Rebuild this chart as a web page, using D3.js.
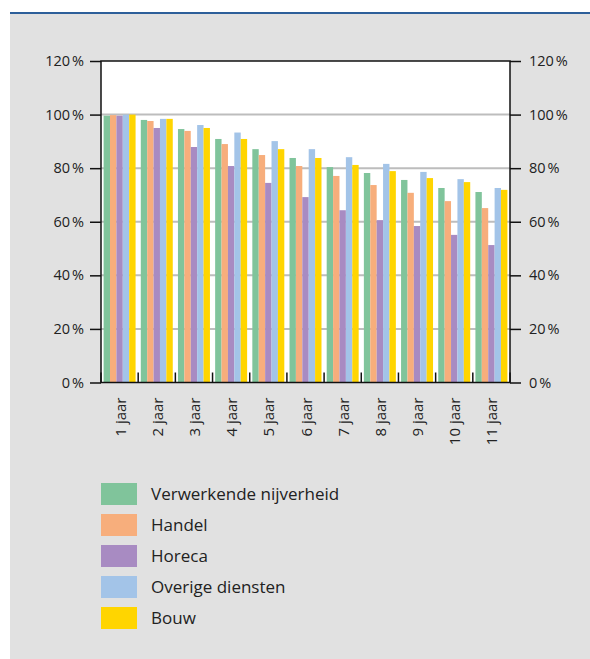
<!DOCTYPE html>
<html>
<head>
<meta charset="utf-8">
<script src="https://cdn.jsdelivr.net/npm/d3@7"></script>
<style>
  body { margin: 0; background: #fff; }
  svg text { font-family: "Open Sans", "Noto Sans", sans-serif; fill: #222; }
</style>
</head>
<body>
<svg class="chart"></svg>
<script>
// categories and series
var years = ["1 jaar", "2 jaar", "3 jaar", "4 jaar", "5 jaar", "6 jaar", "7 jaar", "8 jaar", "9 jaar", "10 jaar", "11 jaar"];
var seriesNames = ["Verwerkende nijverheid", "Handel", "Horeca", "Overige diensten", "Bouw"];
var seriesColors = ["#80c49b", "#f7ae7c", "#a88bc2", "#a3c4e8", "#ffd500"];

var verwerkende = [99.6, 98.0, 94.6, 90.9, 87.1, 83.8, 80.4, 78.2, 75.6, 72.6, 71.1];
var handel = [99.8, 97.6, 93.9, 89.0, 84.9, 80.8, 77.1, 73.7, 70.8, 67.7, 65.1];
var horeca = [99.6, 95.0, 87.9, 80.8, 74.5, 69.2, 64.3, 60.6, 58.4, 55.1, 51.3];
var overige = [100, 98.4, 96.1, 93.3, 90.1, 87.1, 84.1, 81.6, 78.6, 75.9, 72.6];
var bouw = [100, 98.4, 95.0, 90.9, 87.1, 83.8, 81.2, 78.9, 76.3, 74.8, 71.9];

var yTicks = [0, 20, 40, 60, 80, 100, 120];

var allSeries = [verwerkende, handel, horeca, overige, bouw];

var W = 590, H = 659;
var svg = d3.select(".chart").attr("width", W).attr("height", H);

// grey panel with the blue rule on top
svg.append("rect")
    .attr("x", 10).attr("y", 13)
    .attr("width", W - 10).attr("height", H - 13)
    .attr("fill", "#e1e1e1");
svg.append("line")
    .attr("x1", 10).attr("x2", W)
    .attr("y1", 13).attr("y2", 13)
    .attr("stroke", "#2d5f9a")
    .attr("stroke-width", 2);

var plotLeft = 101, plotRight = 510, plotTop = 61, plotBottom = 382.5;

var x = d3.scaleBand().domain(years).range([plotLeft, plotRight]).paddingInner(0.14).paddingOuter(0.07);
var xs = d3.scaleBand().domain(d3.range(seriesNames.length)).range([0, x.bandwidth()]);
var y = d3.scaleLinear().domain([0, 120]).range([plotBottom, plotTop]);

// plot background
svg.append("rect")
    .attr("x", plotLeft).attr("y", plotTop)
    .attr("width", plotRight - plotLeft).attr("height", plotBottom - plotTop)
    .attr("fill", "#fff");

// gridlines
svg.append("g")
  .selectAll("line")
  .data(yTicks.filter(function(d) { return d > 0 && d < 120; }))
  .join("line")
    .attr("x1", plotLeft).attr("x2", plotRight)
    .attr("y1", function(d) { return y(d); })
    .attr("y2", function(d) { return y(d); })
    .attr("stroke", "#bdbdbd")
    .attr("stroke-width", 2);

// bars
svg.append("g")
  .selectAll("g")
  .data(allSeries)
  .join("g")
    .attr("fill", function(d, i) { return seriesColors[i]; })
    .each(function(vals, si) {
      d3.select(this).selectAll("rect")
        .data(vals)
        .join("rect")
          .attr("x", function(v, i) { return x(years[i]) + xs(si); })
          .attr("width", xs.bandwidth())
          .attr("y", function(v) { return y(v); })
          .attr("height", function(v) { return plotBottom - y(v); });
    });

// frame
svg.append("rect")
    .attr("x", plotLeft).attr("y", plotTop)
    .attr("width", plotRight - plotLeft).attr("height", plotBottom - plotTop)
    .attr("fill", "none")
    .attr("stroke", "#111")
    .attr("stroke-width", 1.5);

var fmt = function(d) { return d + "\u202f%"; };

// left axis
var gl = svg.append("g")
    .attr("transform", "translate(" + plotLeft + ",0)")
    .call(d3.axisLeft(y).tickValues(yTicks).tickFormat(fmt).tickSize(11).tickPadding(6));
// right axis
var gr = svg.append("g")
    .attr("transform", "translate(" + plotRight + ",0)")
    .call(d3.axisRight(y).tickValues(yTicks).tickFormat(fmt).tickSize(11).tickPadding(8));

[gl, gr].forEach(function(g) {
  g.select(".domain").remove();
  g.selectAll(".tick line").attr("stroke", "#111").attr("stroke-width", 1.5);
  g.selectAll(".tick text").attr("font-size", 14.5).attr("fill", "#222")
      .style("font-family", "'Open Sans', 'Noto Sans', sans-serif");
});

// category separators inside the plot
var seps = d3.range(years.length + 1).map(function(i) {
  return plotLeft + i * (plotRight - plotLeft) / years.length;
});
svg.append("g")
  .selectAll("line")
  .data(seps)
  .join("line")
    .attr("x1", function(d) { return d; })
    .attr("x2", function(d) { return d; })
    .attr("y1", plotBottom - 10).attr("y2", plotBottom)
    .attr("stroke", "#111")
    .attr("stroke-width", 1.5);

// x labels
svg.append("g")
  .selectAll("text")
  .data(years)
  .join("text")
    .attr("transform", function(d) {
      return "translate(" + (x(d) + x.bandwidth() / 2 + 6) + "," + (plotBottom + 15) + ") rotate(-90)";
    })
    .attr("text-anchor", "end")
    .attr("font-size", 15)
    .text(function(d) { return d; });

// legend
var legend = svg.append("g")
  .selectAll("g")
  .data(seriesNames)
  .join("g")
    .attr("transform", function(d, i) { return "translate(101," + (483 + i * 31) + ")"; });
legend.append("rect")
    .attr("width", 36).attr("height", 22)
    .attr("fill", function(d, i) { return seriesColors[i]; });
legend.append("text")
    .attr("x", 50).attr("y", 17)
    .attr("font-size", 17)
    .text(function(d) { return d; });
</script>
</body>
</html>
